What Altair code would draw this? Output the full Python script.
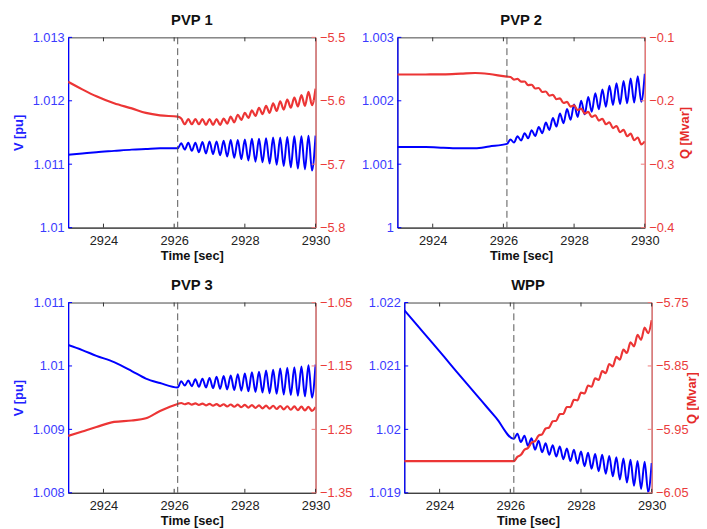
import altair as alt
import pandas as pd

FONT = "Liberation Sans"
BLUE = "#0000ff"
RED = "#ec3535"

X_DOMAIN = [2923, 2930]
X_TICKS = [2924, 2926, 2928, 2930]
EVENT_T = [2926.1]

T_PRE = [2923.0, 2923.4, 2923.8, 2924.3, 2924.8, 2925.2, 2925.6, 2926.1]
T_OSC = [2926.2, 2926.3, 2926.4, 2926.5, 2926.6, 2926.7, 2926.8, 2926.9,
         2927.0, 2927.1, 2927.2, 2927.3, 2927.4, 2927.5, 2927.6, 2927.7, 2927.8, 2927.9,
         2928.0, 2928.1, 2928.2, 2928.3, 2928.4, 2928.5, 2928.6, 2928.7, 2928.8, 2928.9,
         2929.0, 2929.1, 2929.2, 2929.3, 2929.4, 2929.5, 2929.6, 2929.7, 2929.8, 2929.9,
         2930.0]

# ---- PVP 1 ----
PVP1_V_PRE = [1.01115, 1.01117, 1.01119, 1.01121, 1.01123, 1.01124, 1.01125, 1.01125]
PVP1_V_OSC = [1.01133, 1.01123, 1.01134, 1.01121, 1.01134, 1.01119, 1.01135, 1.01117,
              1.01136, 1.01116, 1.01136, 1.01114, 1.01137, 1.01112, 1.01138, 1.01110,
              1.01138, 1.01108, 1.01139, 1.01106, 1.01140, 1.01104, 1.01140, 1.01103,
              1.01141, 1.01101, 1.01142, 1.01099, 1.01142, 1.01097, 1.01143, 1.01095,
              1.01144, 1.01093, 1.01144, 1.01092, 1.01145, 1.01090, 1.01145]
PVP1_Q_PRE = [-5.570, -5.582, -5.593, -5.604, -5.612, -5.619, -5.623, -5.625]
PVP1_Q_OSC = [-5.628, -5.637, -5.629, -5.637, -5.629, -5.637, -5.629, -5.638,
              -5.629, -5.638, -5.629, -5.638, -5.628, -5.636, -5.625, -5.634,
              -5.622, -5.630, -5.619, -5.627, -5.615, -5.624, -5.611, -5.621,
              -5.608, -5.619, -5.604, -5.616, -5.601, -5.614, -5.598, -5.611,
              -5.595, -5.609, -5.591, -5.608, -5.586, -5.607, -5.581]

# ---- PVP 2 ----
PVP2_V_PRE = [1.00127, 1.00127, 1.00127, 1.00126, 1.00125, 1.00125, 1.00128, 1.00132]
PVP2_V_OSC = [1.001391, 1.001341, 1.001440, 1.001374, 1.001489, 1.001409, 1.001537, 1.001444,
              1.001585, 1.001488, 1.001657, 1.001540, 1.001729, 1.001593, 1.001800, 1.001646,
              1.001872, 1.001699, 1.001943, 1.001746, 1.002002, 1.001786, 1.002061, 1.001826,
              1.002120, 1.001867, 1.002179, 1.001907, 1.002238, 1.001934, 1.002276, 1.001946,
              1.002313, 1.001959, 1.002350, 1.001971, 1.002388, 1.001983, 1.002425]
PVP2_Q_PRE = [-0.1586, -0.1586, -0.1585, -0.1583, -0.1572, -0.1562, -0.1578, -0.1620]
PVP2_Q_OSC = [-0.1625, -0.1666, -0.1655, -0.1698, -0.1696, -0.1752, -0.1747, -0.1806,
              -0.1799, -0.1862, -0.1854, -0.1919, -0.1908, -0.1976, -0.1963, -0.2034,
              -0.2018, -0.2091, -0.2072, -0.2146, -0.2124, -0.2201, -0.2176, -0.2255,
              -0.2228, -0.2312, -0.2283, -0.2370, -0.2338, -0.2430, -0.2398, -0.2494,
              -0.2458, -0.2558, -0.2518, -0.2622, -0.2579, -0.2687, -0.2639]

# ---- PVP 3 ----
PVP3_V_PRE = [1.01033, 1.01025, 1.01016, 1.01006, 1.00992, 1.00980, 1.00973, 1.00966]
PVP3_V_OSC = [1.00976, 1.00969, 1.00977, 1.00968, 1.00979, 1.00967, 1.00980, 1.00966,
              1.00981, 1.00965, 1.00983, 1.00964, 1.00984, 1.00963, 1.00985, 1.00962,
              1.00987, 1.00961, 1.00988, 1.00960, 1.00990, 1.00959, 1.00991, 1.00958,
              1.00993, 1.00957, 1.00994, 1.00956, 1.00996, 1.00955, 1.00997, 1.00954,
              1.00998, 1.00953, 1.00999, 1.00952, 1.01001, 1.00950, 1.01002]
PVP3_Q_PRE = [-1.2603, -1.2533, -1.2463, -1.2383, -1.2360, -1.2325, -1.2210, -1.2099]
PVP3_Q_OSC = [-1.2084, -1.2104, -1.2087, -1.2110, -1.2091, -1.2115, -1.2094, -1.2121,
              -1.2097, -1.2127, -1.2101, -1.2133, -1.2104, -1.2139, -1.2108, -1.2144,
              -1.2111, -1.2150, -1.2114, -1.2156, -1.2118, -1.2162, -1.2121, -1.2168,
              -1.2125, -1.2173, -1.2128, -1.2179, -1.2131, -1.2185, -1.2135, -1.2191,
              -1.2138, -1.2197, -1.2142, -1.2202, -1.2145, -1.2208, -1.2148]

# ---- WPP ----
WPP_V_PRE = [1.02188, 1.02162, 1.02136, 1.02103, 1.02070, 1.02044, 1.02018, 1.01985]
WPP_V_OSC = [1.01993, 1.01980, 1.01990, 1.01974, 1.01986, 1.01968, 1.01982, 1.01964,
             1.01978, 1.01960, 1.01975, 1.01957, 1.01973, 1.01953, 1.01970, 1.01950,
             1.01968, 1.01946, 1.01965, 1.01942, 1.01963, 1.01938, 1.01961, 1.01934,
             1.01960, 1.01930, 1.01958, 1.01926, 1.01956, 1.01921, 1.01954, 1.01916,
             1.01952, 1.01911, 1.01950, 1.01906, 1.01949, 1.01901, 1.01947]
WPP_Q_PRE = [-6.000, -6.000, -6.000, -6.000, -6.000, -6.000, -6.000, -6.000]
WPP_Q_OSC = [-5.9934, -5.9902, -5.9822, -5.9794, -5.9710, -5.9686, -5.9598, -5.9578,
             -5.9486, -5.9470, -5.9373, -5.9363, -5.9260, -5.9256, -5.9147, -5.9149,
             -5.9034, -5.9042, -5.8921, -5.8935, -5.8808, -5.8828, -5.8695, -5.8721,
             -5.8582, -5.8614, -5.8469, -5.8507, -5.8356, -5.8400, -5.8242, -5.8296,
             -5.8126, -5.8192, -5.8010, -5.8088, -5.7894, -5.7984, -5.7778]

W, H = 251, 193


def panel(name, v, q, v_dom, q_dom, q_ticks, q_fmt, v_title, q_title):
    v_ticks = [round(v_dom[0] + i * (v_dom[1] - v_dom[0]) / 3, 4) for i in range(4)]
    df = pd.DataFrame({"t": T_PRE + T_OSC, "v": v, "q": q})
    xs = alt.Scale(domain=X_DOMAIN, nice=False, zero=False)
    vs = alt.Scale(domain=v_dom, nice=False, zero=False)
    qs = alt.Scale(domain=q_dom, nice=False, zero=False)
    x_axis = alt.Axis(values=X_TICKS, format="d", title="Time [sec]",
                      domainColor="#333333", labelColor="#222222", titleColor="#111111",
                      labelPadding=7, titlePadding=2, labelFlush=False)
    v_axis_kw = dict(orient="left", values=v_ticks, format=".3~f",
                     domainColor=BLUE, domainWidth=1.3, labelColor="#3a3aff",
                     titleColor="#2020ff", minExtent=38, maxExtent=38, titlePadding=5)
    q_axis_kw = dict(orient="right", values=q_ticks, format=q_fmt,
                     domainColor="#f27a7a", domainWidth=1.3, labelColor="#ea3b3b",
                     titleColor="#e52a2a", minExtent=30, maxExtent=30, titlePadding=4,
                     titleAngle=270, titleBaseline="top")
    v_axis = alt.Axis(title=v_title, **v_axis_kw) if v_title else alt.Axis(title=None, **v_axis_kw)
    q_axis = alt.Axis(title=q_title, **q_axis_kw) if q_title else alt.Axis(title=None, **q_axis_kw)

    X = alt.X("t:Q", scale=xs, axis=x_axis)
    base = alt.Chart(df)
    blue = base.mark_line(color=BLUE, strokeWidth=2, clip=True, interpolate="monotone").encode(
        x=X, y=alt.Y("v:Q", scale=vs, axis=v_axis))
    red = base.mark_line(color=RED, strokeWidth=2.2, clip=True, interpolate="monotone").encode(
        x=X, y=alt.Y("q:Q", scale=qs, axis=q_axis))
    ev = alt.Chart(pd.DataFrame({"t": EVENT_T})).mark_rule(
        color="#555555", strokeWidth=1, strokeDash=[7, 4]).encode(x=X)
    xt = pd.DataFrame({"t": X_TICKS})
    xtick_top = alt.Chart(xt).mark_rule(color="#333333").encode(
        x=X, y=alt.value(0), y2=alt.value(4))
    xtick_bot = alt.Chart(xt).mark_rule(color="#333333").encode(
        x=X, y=alt.value(H), y2=alt.value(H - 4))
    vtick = alt.Chart(pd.DataFrame({"v": v_ticks})).mark_rule(color=BLUE).encode(
        y=alt.Y("v:Q", scale=vs, axis=None), x=alt.value(0), x2=alt.value(4))
    qtick = alt.Chart(pd.DataFrame({"q": q_ticks})).mark_rule(color="#f27a7a").encode(
        y=alt.Y("q:Q", scale=qs, axis=None), x=alt.value(W), x2=alt.value(W - 4))

    return alt.layer(blue, red, ev, xtick_top, xtick_bot, vtick, qtick).resolve_scale(
        y="independent").properties(
        width=W, height=H,
        title=alt.TitleParams(name, fontSize=15, fontWeight="bold", font=FONT,
                              color="#111111", offset=4))


p1 = panel("PVP 1", PVP1_V_PRE + PVP1_V_OSC, PVP1_Q_PRE + PVP1_Q_OSC,
           [1.010, 1.013], [-5.8, -5.5], [-5.8, -5.7, -5.6, -5.5], ".1f",
           "V [pu]", "")
p2 = panel("PVP 2", PVP2_V_PRE + PVP2_V_OSC, PVP2_Q_PRE + PVP2_Q_OSC,
           [1.000, 1.003], [-0.4, -0.1], [-0.4, -0.3, -0.2, -0.1], ".1f",
           "", "Q [Mvar]")
p3 = panel("PVP 3", PVP3_V_PRE + PVP3_V_OSC, PVP3_Q_PRE + PVP3_Q_OSC,
           [1.008, 1.011], [-1.35, -1.05], [-1.35, -1.25, -1.15, -1.05], ".2f",
           "V [pu]", "")
p4 = panel("WPP", WPP_V_PRE + WPP_V_OSC, WPP_Q_PRE + WPP_Q_OSC,
           [1.019, 1.022], [-6.05, -5.75], [-6.05, -5.95, -5.85, -5.75], ".2f",
           "", "Q [Mvar]")

chart = alt.vconcat(
    alt.hconcat(p1, p2, spacing=13),
    alt.hconcat(p3, p4, spacing=13),
    spacing=14,
).properties(
    padding={"left": 4, "top": 0, "right": 0, "bottom": 0}
).configure_view(stroke="#444444", strokeWidth=1).configure_axis(
    grid=False, labelFont=FONT, titleFont=FONT, labelFontSize=13, titleFontSize=13,
    titleFontWeight="bold", tickSize=0, labelPadding=4
)

chart.save("out.html", embed_options={"renderer": "svg", "actions": False})
